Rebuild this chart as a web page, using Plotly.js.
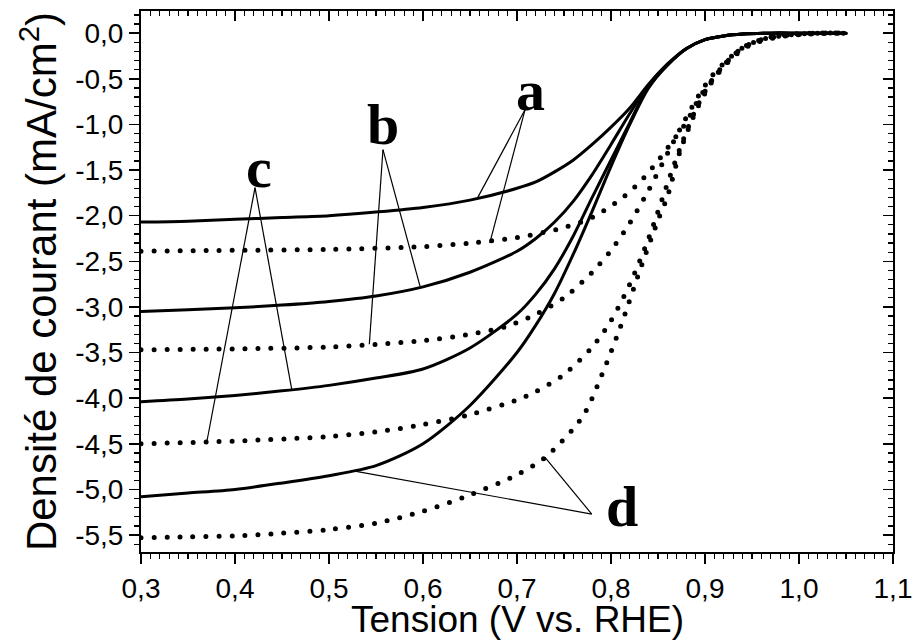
<!DOCTYPE html>
<html><head><meta charset="utf-8">
<script src="https://cdn.plot.ly/plotly-3.0.1.min.js"></script>
<style>
html,body{margin:0;padding:0;background:#fff}
#chart{width:917px;height:641px}
.scatterlayer .js-line{stroke-linecap:round}
</style></head><body><div id="chart"></div>
<script>
// ---- data ----
const vSolid = [0.30,0.35,0.40,0.45,0.50,0.55,0.60,0.65,0.70,0.72,0.74,0.76,0.78,0.80,0.82,0.84,0.86,0.88,0.90,0.92,0.94,0.97,1.00,1.05];
const solidA = [-2.07,-2.06,-2.04,-2.02,-2.00,-1.96,-1.91,-1.83,-1.70,-1.63,-1.52,-1.39,-1.22,-1.03,-0.82,-0.56,-0.34,-0.17,-0.07,-0.03,-0.01,0,0,0];
const solidB = [-3.05,-3.03,-3.01,-2.98,-2.94,-2.88,-2.78,-2.62,-2.39,-2.25,-2.07,-1.84,-1.55,-1.22,-0.88,-0.57,-0.34,-0.17,-0.07,-0.03,-0.01,0,0,0];
const solidC = [-4.04,-4.01,-3.97,-3.92,-3.86,-3.78,-3.68,-3.45,-3.08,-2.86,-2.58,-2.22,-1.80,-1.39,-0.98,-0.58,-0.35,-0.17,-0.07,-0.03,-0.01,0,0,0];
const solidD = [-5.08,-5.04,-5.00,-4.93,-4.85,-4.74,-4.50,-4.08,-3.50,-3.20,-2.85,-2.42,-1.95,-1.46,-1.00,-0.60,-0.35,-0.17,-0.07,-0.03,-0.01,0,0,0];

const vDotA = [0.30,0.40,0.50,0.60,0.65,0.70,0.75,0.78,0.81,0.83,0.85,0.865,0.88,0.895,0.91,0.93,0.95,0.98,1.01,1.05];
const dotA  = [-2.39,-2.38,-2.37,-2.34,-2.30,-2.24,-2.13,-2.02,-1.82,-1.64,-1.40,-1.19,-0.98,-0.69,-0.49,-0.26,-0.12,-0.04,-0.01,0];
const vDotB = [0.30,0.40,0.50,0.55,0.60,0.65,0.69,0.72,0.75,0.78,0.80,0.82,0.84,0.86,0.875,0.89,0.905,0.92,0.94,0.96,0.99,1.02,1.05];
const dotB  = [-3.47,-3.46,-3.44,-3.41,-3.37,-3.30,-3.21,-3.08,-2.90,-2.62,-2.38,-2.08,-1.72,-1.32,-1.02,-0.74,-0.50,-0.33,-0.16,-0.07,-0.02,0,0];
const vDotC = [0.30,0.40,0.50,0.55,0.60,0.65,0.70,0.72,0.75,0.78,0.80,0.82,0.84,0.86,0.875,0.89,0.905,0.92,0.94,0.96,0.99,1.02,1.05];
const dotC  = [-4.50,-4.47,-4.42,-4.37,-4.29,-4.18,-4.02,-3.93,-3.74,-3.44,-3.15,-2.75,-2.25,-1.65,-1.22,-0.84,-0.55,-0.35,-0.16,-0.07,-0.02,0,0];
const vDotD = [0.30,0.35,0.40,0.45,0.50,0.55,0.60,0.65,0.70,0.73,0.77,0.79,0.81,0.83,0.85,0.86,0.873,0.882,0.89,0.90,0.91,0.92,0.94,0.96,0.98,1.01,1.05];
const dotD  = [-5.53,-5.52,-5.51,-5.48,-5.44,-5.37,-5.24,-5.06,-4.84,-4.65,-4.20,-3.75,-3.22,-2.62,-2.05,-1.79,-1.31,-1.06,-0.86,-0.66,-0.49,-0.35,-0.16,-0.07,-0.02,0,0];

const xTickVals = [0.3,0.4,0.5,0.6,0.7,0.8,0.9,1.0,1.1];
const xTickText = ["0,3","0,4","0,5","0,6","0,7","0,8","0,9","1,0","1,1"];
const yTickVals = [0,-0.5,-1,-1.5,-2,-2.5,-3,-3.5,-4,-4.5,-5,-5.5];
const yTickText = ["0,0","-0,5","-1,0","-1,5","-2,0","-2,5","-3,0","-3,5","-4,0","-4,5","-5,0","-5,5"];
const xTitle = 'Tension (V vs. RHE)';
const yTitle = 'Densité de courant (mA/cm<sup>2</sup>)';

// labels: letter, label position, apex, two target points (data coords)
const labelText = ["a","b","c","d"];
const labelX = [0.714,0.557,0.4255,0.812];
const labelY = [-0.63,-1.00,-1.47,-5.19];
const apexX = [0.7085,0.5574,0.4213,0.7795];
const apexY = [-0.84,-1.277,-1.693,-5.27];
const tgt1X = [0.657,0.5968,0.4603,0.5259];
const tgt1Y = [-1.824,-2.772,-3.90,-4.797];
const tgt2X = [0.671,0.5429,0.3699,0.7298];
const tgt2Y = [-2.30,-3.41,-4.486,-4.65];

const xRange = [0.3,1.1];
const yRange = [-5.686,0.243];

// ---- build ----
const solidLine = {color:'#000', width:3, shape:'spline', smoothing:0.8};
const dotLine = {color:'#000', width:5, dash:'0px,13px', shape:'spline', smoothing:0.8};
const traces = [];
[solidA,solidB,solidC,solidD].forEach(s => traces.push({x:vSolid, y:s, mode:'lines', line:solidLine, hoverinfo:'skip', showlegend:false}));
[[vDotA,dotA],[vDotB,dotB],[vDotC,dotC],[vDotD,dotD]].forEach(p => traces.push({x:p[0], y:p[1], mode:'lines', line:dotLine, hoverinfo:'skip', showlegend:false}));
traces.push({x:[], y:[], xaxis:'x2', yaxis:'y2', mode:'lines', showlegend:false, hoverinfo:'skip'});

const shapes = [];
const annotations = [];
for (let i=0;i<labelText.length;i++){
  shapes.push({type:'line', xref:'x', yref:'y', x0:apexX[i], y0:apexY[i], x1:tgt1X[i], y1:tgt1Y[i], line:{color:'#000', width:1.2}});
  shapes.push({type:'line', xref:'x', yref:'y', x0:apexX[i], y0:apexY[i], x1:tgt2X[i], y1:tgt2Y[i], line:{color:'#000', width:1.2}});
  annotations.push({x:labelX[i], y:labelY[i], xref:'x', yref:'y', text:labelText[i], showarrow:false,
    font:{family:'Liberation Serif, Times New Roman, serif', size:58, color:'#000', weight:'bold'}, xanchor:'center', yanchor:'middle'});
}
// x-axis title placed just under the tick labels
annotations.push({x:0.5, y:0, xref:'paper', yref:'paper', text:xTitle, showarrow:false, xanchor:'center', yanchor:'middle', yshift:-67, borderpad:0,
  font:{family:'Liberation Sans, Arial, sans-serif', size:37, color:'#000'}});

const tickFont = {family:'Liberation Sans, Arial, sans-serif', size:28, color:'#000'};
const layout = {
  width:917, height:641,
  margin:{l:141, r:24, t:11, b:89, pad:0},
  paper_bgcolor:'#fff', plot_bgcolor:'#fff',
  showlegend:false,
  xaxis:{range:xRange, tickmode:'array', tickvals:xTickVals, ticktext:xTickText, ticks:'outside', ticklen:10, tickwidth:1.5, tickcolor:'#000',
    ticklabelstandoff:0,
    minor:{dtick:0.01, tick0:0, ticks:'outside', ticklen:5, tickwidth:1.2, tickcolor:'#000', showgrid:false},
    showline:true, linecolor:'#000', linewidth:2, showgrid:false, zeroline:false, tickfont:tickFont},
  yaxis:{range:yRange, tickmode:'array', tickvals:yTickVals, ticktext:yTickText, ticks:'outside', ticklen:10, tickwidth:1.5, tickcolor:'#000',
    minor:{dtick:0.1, tick0:0, ticks:'outside', ticklen:5, tickwidth:1.2, tickcolor:'#000', showgrid:false},
    showline:true, linecolor:'#000', linewidth:2, showgrid:false, zeroline:false, tickfont:tickFont,
    title:{text:yTitle, font:{family:'Liberation Sans, Arial, sans-serif', size:42, color:'#000'}, standoff:5}},
  xaxis2:{range:xRange, overlaying:'x', side:'top', anchor:'y2', tickmode:'array', tickvals:xTickVals, ticks:'inside', ticklen:10, tickwidth:1.5, tickcolor:'#000',
    minor:{dtick:0.01, tick0:0, ticks:'inside', ticklen:5, tickwidth:1.2, tickcolor:'#000', showgrid:false},
    showticklabels:false, showline:true, linecolor:'#000', linewidth:2, showgrid:false, zeroline:false},
  yaxis2:{range:yRange, overlaying:'y', side:'right', anchor:'x2', tickmode:'array', tickvals:yTickVals, ticks:'inside', ticklen:10, tickwidth:1.5, tickcolor:'#000',
    minor:{dtick:0.1, tick0:0, ticks:'inside', ticklen:5, tickwidth:1.2, tickcolor:'#000', showgrid:false},
    showticklabels:false, showline:true, linecolor:'#000', linewidth:2, showgrid:false, zeroline:false},
  shapes:shapes, annotations:annotations
};
Plotly.newPlot('chart', traces, layout, {staticPlot:true, displayModeBar:false});
</script></body></html>
